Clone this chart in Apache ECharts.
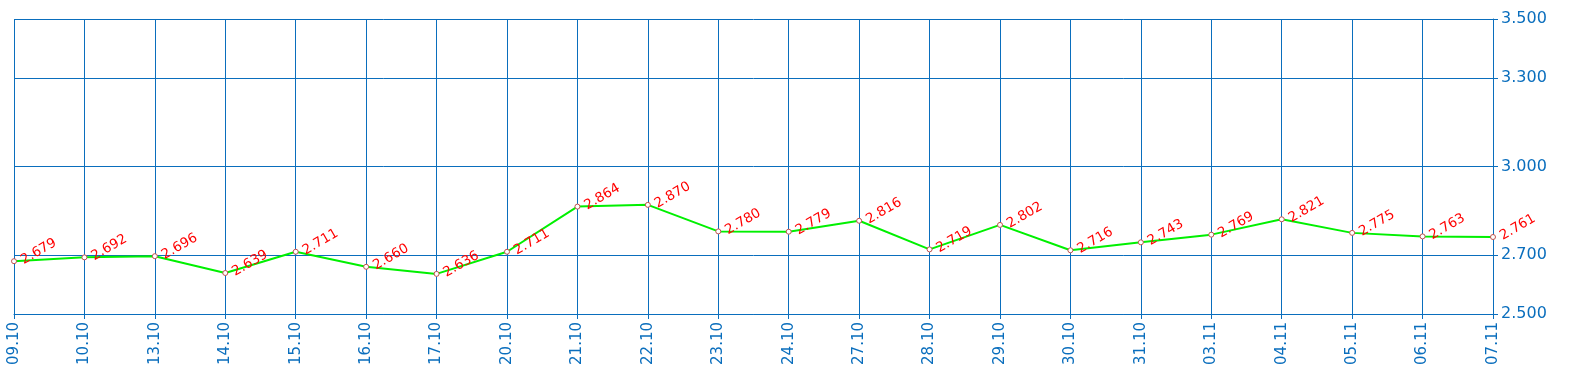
<!DOCTYPE html>
<html><head><meta charset="utf-8">
<script src="https://cdn.jsdelivr.net/npm/echarts@6/dist/echarts.min.js"></script>
<style>html,body{margin:0;padding:0;background:#fff}#c{width:1570px;height:370px}</style>
</head><body><div id="c"></div>
<script>
const categories = ['09.10','10.10','13.10','14.10','15.10','16.10','17.10','20.10','21.10','22.10','23.10','24.10','27.10','28.10','29.10','30.10','31.10','03.11','04.11','05.11','06.11','07.11'];
const values = [2.679,2.692,2.696,2.639,2.711,2.660,2.636,2.711,2.864,2.870,2.780,2.779,2.816,2.719,2.802,2.716,2.743,2.769,2.821,2.775,2.763,2.761];
const yTicks = [2.5,2.7,3.0,3.3,3.5];
const blue = '#0a6ebd';
const chart = echarts.init(document.getElementById('c'));
chart.setOption({
  animation:false,
  grid:{left:14,right:77,top:19,bottom:56},
  xAxis:{type:'category',data:categories,boundaryGap:false,
    axisLine:{show:true,lineStyle:{color:blue,width:1}},
    axisTick:{show:true,inside:false,length:5,alignWithLabel:true,lineStyle:{color:blue}},
    axisLabel:{rotate:90,color:blue,fontFamily:'DejaVu Sans',fontSize:15,margin:8,interval:0},
    splitLine:{show:true,interval:0,lineStyle:{color:blue,width:1}}},
  yAxis:{type:'value',position:'right',min:2.5,max:3.5,
    axisLine:{show:true,lineStyle:{color:blue,width:1}},
    axisTick:{show:true,length:5,customValues:yTicks,lineStyle:{color:blue}},
    axisLabel:{customValues:yTicks,color:blue,fontFamily:'DejaVu Sans',fontSize:16,margin:8,
      formatter:v=>v.toFixed(3)},
    splitLine:{show:true,lineStyle:{color:blue,width:1}}},
  series:[{type:'line',data:values,symbol:'circle',symbolSize:5,
    itemStyle:{color:'#fff',borderColor:'#c0504d',borderWidth:1},
    lineStyle:{color:'#00f000',width:2},
    label:{show:true,position:'right',distance:5,rotate:30,color:'#ff0000',
      fontFamily:'DejaVu Sans',fontSize:13.5,formatter:p=>p.value.toFixed(3)}}]
});
</script></body></html>
